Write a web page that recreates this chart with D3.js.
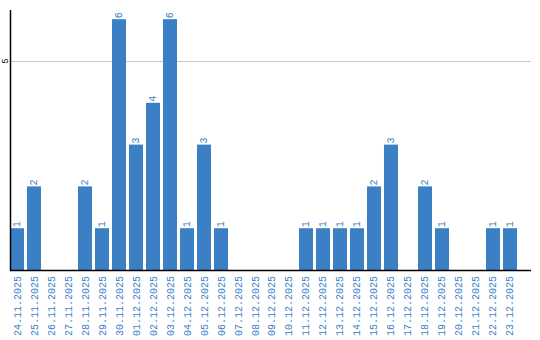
<!DOCTYPE html>
<html lang="en">
<head>
  <meta charset="UTF-8">
  <title></title>
  <style>
    html, body {
      margin: 0;
      overflow: hidden;
      width: 540px;
      height: 340px;
      background: #fff;
    }

    svg {
      position: absolute;
      top: 0;
      left: 0;
    }
  </style>
</head>
<body>
  <svg width="540" height="340"></svg>
</body>
<script src="https://d3js.org/d3.v7.min.js"></script>
<script type="text/javascript">
  const dates = [
    '24.11.2025', '25.11.2025', '26.11.2025', '27.11.2025', '28.11.2025', '29.11.2025',
    '30.11.2025', '01.12.2025', '02.12.2025', '03.12.2025', '04.12.2025', '05.12.2025',
    '06.12.2025', '07.12.2025', '08.12.2025', '09.12.2025', '10.12.2025', '11.12.2025',
    '12.12.2025', '13.12.2025', '14.12.2025', '15.12.2025', '16.12.2025', '17.12.2025',
    '18.12.2025', '19.12.2025', '20.12.2025', '21.12.2025', '22.12.2025', '23.12.2025'
  ]
  const counts = [1, 2, 0, 0, 2, 1, 6, 3, 4, 6, 1, 3, 1, 0, 0, 0, 0, 1, 1, 1, 1, 2, 3, 0, 2, 1, 0, 0, 1, 1]
  const yTicks = [5]

  const data = dates.map((d, i) => ({ date: d, value: counts[i] }))

  const svg = d3.select('svg')
  const plotLeft = 10
  const plotBottom = 270
  const plotTop = 10
  const plotRight = 531

  const x = d3.scaleBand()
    .domain(dates)
    .range([plotLeft, 517])
    .paddingInner(0.176)
    .paddingOuter(0)

  const y = d3.scaleLinear()
    .domain([0, 6.22])
    .range([plotBottom, plotTop])

  const blue = '#3b7fc4'
  const font = '"Liberation Mono", monospace'

  // grid
  svg.selectAll('line.grid')
    .data(yTicks)
    .enter()
    .append('line')
    .attr('class', 'grid')
    .attr('x1', plotLeft)
    .attr('x2', plotRight)
    .attr('y1', d => Math.round(y(d)) + 0.5)
    .attr('y2', d => Math.round(y(d)) + 0.5)
    .attr('stroke', '#c8c8c8')
    .attr('stroke-width', 1)

  svg.selectAll('text.ytick')
    .data(yTicks)
    .enter()
    .append('text')
    .attr('class', 'ytick')
    .attr('transform', d => `translate(8,${y(d)}) rotate(-90)`)
    .attr('text-anchor', 'middle')
    .attr('font-family', font)
    .attr('font-size', '9px')
    .attr('fill', '#000')
    .text(d => d)

  // bars
  svg.selectAll('rect.bar')
    .data(data.filter(d => d.value > 0))
    .enter()
    .append('rect')
    .attr('class', 'bar')
    .attr('x', d => x(d.date))
    .attr('y', d => y(d.value))
    .attr('width', x.bandwidth())
    .attr('height', d => plotBottom - y(d.value))
    .attr('fill', blue)

  svg.selectAll('text.val')
    .data(data.filter(d => d.value > 0))
    .enter()
    .append('text')
    .attr('class', 'val')
    .attr('transform', d => `translate(${x(d.date) + x.bandwidth() / 2 + 3},${y(d.value) - 1}) rotate(-90)`)
    .attr('text-anchor', 'start')
    .attr('font-family', font)
    .attr('font-size', '10px')
    .attr('fill', blue)
    .text(d => d.value)

  // axes
  svg.append('line')
    .attr('x1', plotLeft + 0.5)
    .attr('x2', plotLeft + 0.5)
    .attr('y1', plotTop)
    .attr('y2', plotBottom + 1)
    .attr('stroke', '#000')
    .attr('stroke-width', 1.5)

  svg.append('line')
    .attr('x1', plotLeft)
    .attr('x2', plotRight)
    .attr('y1', plotBottom + 0.5)
    .attr('y2', plotBottom + 0.5)
    .attr('stroke', '#000')
    .attr('stroke-width', 1.5)

  svg.selectAll('text.date')
    .data(dates)
    .enter()
    .append('text')
    .attr('class', 'date')
    .attr('transform', d => `translate(${x(d) + x.bandwidth() / 2 + 3.5},276) rotate(-90)`)
    .attr('text-anchor', 'end')
    .attr('font-family', font)
    .attr('font-size', '10px')
    .attr('fill', blue)
    .text(d => d)
</script>
</html>
